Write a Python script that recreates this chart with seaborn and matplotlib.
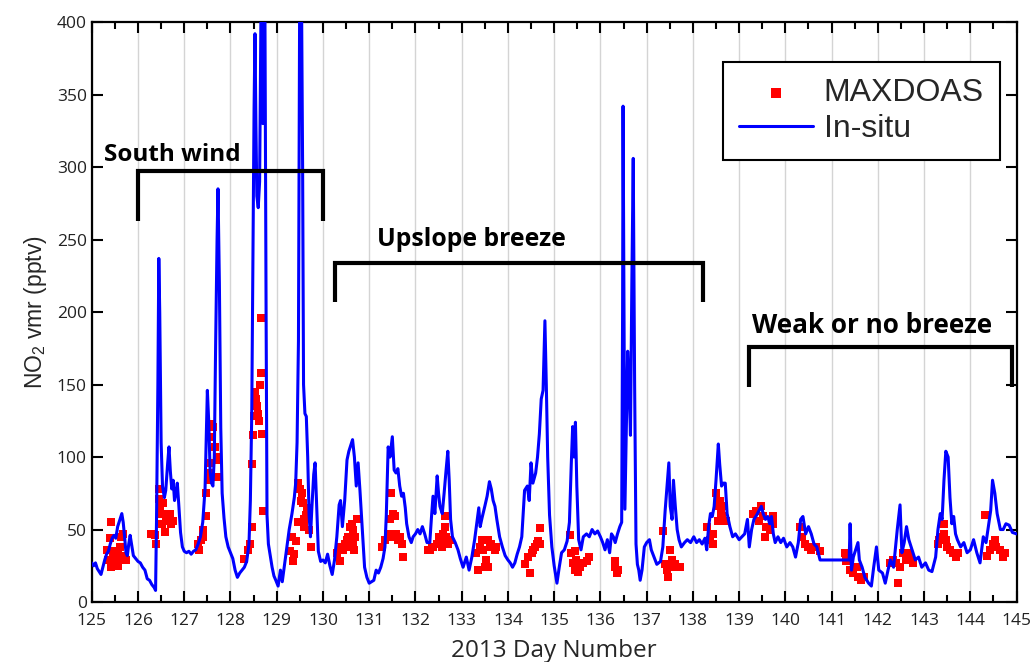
import matplotlib.pyplot as plt
import pandas as pd
import seaborn as sns

# in-situ NO2 (pptv)
insitu_day = [
    125.00, 125.04, 125.08, 125.12, 125.16, 125.20, 125.24, 125.28, 125.32, 125.36,
    125.40, 125.44, 125.48, 125.52, 125.56, 125.60, 125.65, 125.68, 125.71, 125.74,
    125.77, 125.80, 125.83, 125.86, 125.90, 125.95, 126.00, 126.05, 126.10, 126.15,
    126.20, 126.25, 126.30, 126.35, 126.38, 126.40, 126.43, 126.45, 126.47, 126.50,
    126.53, 126.57, 126.60, 126.64, 126.67, 126.70, 126.73, 126.76, 126.79, 126.82,
    126.85, 126.88, 126.92, 126.96, 127.00, 127.05, 127.10, 127.15, 127.20, 127.25,
    127.30, 127.35, 127.40, 127.45, 127.48, 127.50, 127.53, 127.56, 127.59, 127.62,
    127.65, 127.68, 127.71, 127.73, 127.76, 127.79, 127.82, 127.86, 127.90, 127.95,
    128.00, 128.05, 128.10, 128.15, 128.20, 128.25, 128.30, 128.35, 128.40, 128.43,
    128.46, 128.49, 128.51, 128.53, 128.55, 128.57, 128.60, 128.63, 128.67, 128.70,
    128.74, 128.77, 128.79, 128.82, 128.86, 128.90, 128.94, 128.98, 129.03, 129.08,
    129.12, 129.17, 129.22, 129.27, 129.33, 129.38, 129.41, 129.44, 129.47, 129.50,
    129.53, 129.56, 129.58, 129.61, 129.64, 129.67, 129.70, 129.73, 129.76, 129.80,
    129.83, 129.86, 129.90, 129.95, 130.00, 130.05, 130.10, 130.15, 130.20, 130.25,
    130.30, 130.35, 130.38, 130.42, 130.47, 130.52, 130.56, 130.60, 130.64, 130.68,
    130.72, 130.76, 130.80, 130.85, 130.90, 130.95, 131.00, 131.05, 131.10, 131.15,
    131.20, 131.25, 131.30, 131.34, 131.37, 131.41, 131.45, 131.50, 131.54, 131.58,
    131.62, 131.66, 131.70, 131.74, 131.78, 131.81, 131.86, 131.91, 131.95, 132.00,
    132.05, 132.10, 132.15, 132.20, 132.25, 132.31, 132.35, 132.38, 132.42, 132.47,
    132.50, 132.53, 132.58, 132.62, 132.66, 132.70, 132.73, 132.76, 132.80, 132.86,
    132.92, 132.97, 133.03, 133.10, 133.16, 133.22, 133.28, 133.33, 133.37, 133.40,
    133.44, 133.50, 133.55, 133.60, 133.64, 133.68, 133.72, 133.76, 133.82, 133.88,
    133.94, 134.00, 134.05, 134.10, 134.15, 134.20, 134.25, 134.30, 134.36, 134.42,
    134.46, 134.50, 134.54, 134.60, 134.64, 134.68, 134.72, 134.76, 134.80, 134.83,
    134.86, 134.90, 134.95, 135.00, 135.06, 135.11, 135.16, 135.22, 135.28, 135.33,
    135.37, 135.40, 135.43, 135.46, 135.49, 135.53, 135.58, 135.63, 135.70, 135.76,
    135.82, 135.88, 135.94, 136.00, 136.05, 136.10, 136.15, 136.20, 136.24, 136.28,
    136.32, 136.37, 136.42, 136.46, 136.48, 136.49, 136.51, 136.53, 136.56, 136.59,
    136.62, 136.65, 136.68, 136.71, 136.74, 136.77, 136.80, 136.83, 136.86, 136.90,
    136.95, 137.00, 137.06, 137.10, 137.16, 137.22, 137.30, 137.35, 137.40, 137.44,
    137.48, 137.51, 137.55, 137.58, 137.62, 137.66, 137.70, 137.75, 137.82, 137.88,
    137.95, 138.02, 138.08, 138.14, 138.20, 138.26, 138.30, 138.34, 138.38, 138.42,
    138.46, 138.50, 138.55, 138.58, 138.62, 138.66, 138.70, 138.74, 138.80, 138.86,
    138.92, 139.00, 139.06, 139.12, 139.18, 139.22, 139.27, 139.32, 139.38, 139.43,
    139.48, 139.52, 139.57, 139.62, 139.66, 139.70, 139.74, 139.78, 139.84, 139.90,
    139.96, 140.03, 140.10, 140.16, 140.22, 140.28, 140.33, 140.38, 140.44, 140.50,
    140.56, 140.62, 140.68, 140.75, 141.38, 141.40, 141.43, 141.47, 141.52, 141.57,
    141.60, 141.66, 141.72, 141.80, 141.86, 141.91, 141.97, 142.02, 142.10, 142.16,
    142.22, 142.27, 142.34, 142.42, 142.48, 142.52, 142.57, 142.62, 142.67, 142.74,
    142.81, 142.88, 142.95, 143.03, 143.10, 143.17, 143.25, 143.30, 143.35, 143.39,
    143.43, 143.47, 143.52, 143.56, 143.60, 143.64, 143.68, 143.72, 143.79, 143.86,
    143.93, 144.00, 144.07, 144.14, 144.21, 144.28, 144.34, 144.40, 144.44, 144.48,
    144.53, 144.58, 144.65, 144.71, 144.77, 144.84, 144.91, 145.00,
]
insitu_no2 = [
    27, 25, 27, 23, 21, 19, 24, 29, 33, 35,
    40, 44, 46, 44, 52, 56, 61, 55, 45, 34,
    32, 40, 46, 40, 32, 30, 28, 27, 24, 22,
    16, 15, 12, 10, 8, 55, 150, 237, 200, 110,
    80, 72, 77, 95, 107, 90, 78, 84, 70, 75,
    82, 68, 48, 38, 35, 34, 35, 33, 35, 36,
    40, 45, 55, 78, 120, 146, 124, 90, 82, 80,
    100, 180, 250, 285, 220, 120, 75, 58, 45, 38,
    34, 30, 22, 17, 20, 22, 24, 28, 40, 70,
    130, 260, 340, 392, 330, 280, 272, 290, 450, 330,
    450, 200, 60, 40, 32, 24, 18, 15, 11, 22,
    14, 26, 38, 50, 61, 72, 82, 110, 180, 450,
    450, 300, 150, 130, 128, 100, 60, 45, 65, 88,
    96, 70, 35, 28, 29, 27, 33, 25, 19, 29,
    45, 67, 70, 52, 70, 98, 104, 108, 112, 100,
    80, 96, 77, 50, 24, 17, 13, 14, 15, 22,
    20, 24, 30, 38, 60, 107, 100, 114, 91, 89,
    92, 80, 73, 75, 65, 54, 45, 41, 45, 47,
    50, 47, 52, 47, 41, 41, 60, 73, 61, 87,
    75, 66, 61, 75, 90, 104, 84, 57, 45, 41,
    36, 30, 24, 31, 22, 31, 43, 55, 65, 52,
    58, 66, 73, 83, 78, 70, 66, 57, 45, 38,
    32, 29, 27, 24, 27, 33, 38, 45, 77, 80,
    70, 96, 82, 89, 100, 116, 140, 146, 194, 150,
    100, 60, 38, 25, 13, 24, 34, 36, 42, 55,
    95, 121, 100, 124, 80, 43, 36, 45, 47, 45,
    50, 47, 49, 45, 41, 36, 43, 34, 47, 45,
    41, 47, 52, 55, 200, 342, 200, 64, 120, 173,
    150, 115, 220, 306, 150, 40, 26, 22, 15, 22,
    38, 41, 43, 36, 31, 26, 28, 38, 63, 80,
    96, 66, 57, 84, 66, 50, 43, 38, 41, 43,
    41, 45, 41, 43, 40, 44, 36, 52, 61, 59,
    66, 84, 109, 95, 80, 82, 82, 61, 52, 45,
    47, 43, 45, 47, 57, 38, 50, 57, 60, 63,
    66, 61, 57, 59, 54, 59, 47, 41, 45, 41,
    44, 38, 41, 38, 31, 41, 57, 59, 47, 52,
    47, 40, 38, 29, 29, 54, 22, 31, 36, 41,
    29, 24, 17, 13, 11, 24, 38, 22, 20, 13,
    22, 29, 24, 50, 67, 34, 41, 52, 43, 36,
    29, 31, 24, 27, 22, 21, 31, 50, 61, 57,
    84, 104, 100, 72, 54, 59, 47, 43, 38, 41,
    34, 36, 43, 34, 27, 45, 41, 54, 63, 84,
    75, 61, 50, 50, 54, 53, 48, 47,
]

# MAXDOAS NO2 (pptv)
maxdoas_day = [
    125.32, 125.35, 125.39, 125.41, 125.42, 125.46, 125.50, 125.50, 125.53, 125.57,
    125.57, 125.60, 125.64, 125.64, 125.68, 125.68, 125.71, 125.75,
    126.29, 126.36, 126.40, 126.46, 126.46, 126.47, 126.51, 126.51, 126.54, 126.58,
    126.59, 126.61, 126.65, 126.69, 126.72, 126.76,
    127.30, 127.33, 127.37, 127.40, 127.41, 127.48, 127.48, 127.51, 127.55, 127.55,
    127.59, 127.59, 127.62, 127.66, 127.70, 127.70, 127.73,
    128.30, 128.38, 128.42, 128.46, 128.47, 128.48, 128.50, 128.52, 128.54, 128.56,
    128.58, 128.60, 128.62, 128.64, 128.66, 128.67, 128.69, 128.70,
    129.28, 129.32, 129.35, 129.38, 129.42, 129.45, 129.47, 129.50, 129.52, 129.54,
    129.56, 129.58, 129.60, 129.63, 129.66, 129.70, 129.75,
    130.30, 130.37, 130.40, 130.44, 130.48, 130.51, 130.55, 130.58, 130.58, 130.62,
    130.65, 130.65, 130.67, 130.69, 130.73,
    131.27, 131.34, 131.41, 131.45, 131.48, 131.52, 131.52, 131.55, 131.59, 131.62,
    131.66, 131.70, 131.73,
    132.28, 132.31, 132.35, 132.39, 132.46, 132.50, 132.53, 132.57, 132.60, 132.64,
    132.64, 132.67, 132.71, 132.75,
    133.32, 133.36, 133.39, 133.43, 133.46, 133.50, 133.53, 133.57, 133.57, 133.61,
    133.64, 133.71, 133.75,
    134.37, 134.44, 134.48, 134.51, 134.55, 134.58, 134.62, 134.66, 134.69, 134.69,
    135.34, 135.37, 135.41, 135.44, 135.44, 135.48, 135.51, 135.55, 135.62, 135.70,
    135.76,
    136.31, 136.31, 136.35, 136.38,
    137.36, 137.40, 137.43, 137.47, 137.47, 137.50, 137.54, 137.58, 137.61, 137.65,
    137.72,
    138.30, 138.37, 138.44, 138.44, 138.51, 138.54, 138.54, 138.58, 138.61, 138.64,
    138.68, 138.71,
    139.30, 139.37, 139.44, 139.48, 139.52, 139.55, 139.59, 139.66, 139.67, 139.73,
    139.74,
    140.31, 140.35, 140.42, 140.49, 140.56, 140.67, 140.75,
    141.29, 141.32, 141.40, 141.47, 141.54, 141.57, 141.64, 141.71,
    142.26, 142.33, 142.40, 142.44, 142.47, 142.54, 142.61, 142.68, 142.71, 142.76,
    143.30, 143.33, 143.39, 143.40, 143.42, 143.44, 143.47, 143.50, 143.55, 143.62,
    143.70, 143.73,
    144.31, 144.35, 144.42, 144.49, 144.53, 144.56, 144.64, 144.71, 144.75,
]
maxdoas_no2 = [
    36, 29, 44, 55, 24, 31, 35, 25, 29, 34,
    25, 38, 45, 29, 47, 32, 30, 29,
    47, 46, 40, 78, 71, 66, 61, 54, 68, 61,
    48, 59, 56, 61, 54, 56,
    40, 36, 43, 50, 45, 59, 75, 84, 89, 96,
    123, 114, 121, 107, 100, 86, 98,
    30, 36, 40, 52, 95, 115, 128, 137, 145, 140,
    135, 130, 125, 150, 158, 196, 116, 63,
    35, 45, 28, 33, 42, 55, 82, 78, 70, 75,
    68, 57, 52, 60, 65, 50, 38,
    34, 28, 38, 36, 40, 43, 45, 52, 38, 54,
    50, 41, 36, 45, 57,
    38, 43, 47, 57, 75, 61, 45, 59, 47, 43,
    45, 40, 31,
    36, 36, 38, 38, 40, 45, 43, 38, 47, 59,
    52, 45, 40, 43,
    34, 22, 38, 43, 36, 24, 29, 43, 24, 38,
    40, 36, 38,
    26, 31, 20, 34, 36, 38, 40, 42, 51, 40,
    46, 34, 27, 22, 35, 29, 21, 24, 27, 28,
    31,
    24, 28, 20, 22,
    49, 26, 22, 17, 26, 36, 29, 24, 26, 24,
    24,
    52, 43, 47, 40, 75, 66, 56, 70, 61, 59,
    66, 56,
    61, 63, 56, 66, 59, 45, 52, 50, 50, 54,
    59,
    52, 45, 40, 38, 36, 38, 35,
    34, 28, 22, 20, 24, 17, 15, 17,
    27, 29, 27, 13, 24, 34, 29, 34, 29, 27,
    40, 43, 45, 54, 54, 47, 43, 38, 36, 34,
    31, 34,
    60, 32, 36, 40, 43, 38, 36, 31, 34,
]

day_ticks = list(range(125, 146))
vmr_ticks = list(range(0, 401, 50))

# (label, bracket start, bracket end, bracket top, leg bottom, text x, text y)
periods = [
    ("South wind", 126.0, 130.0, 297, 263, 125.27, 308),
    ("Upslope breeze", 130.26, 138.22, 234, 207, 131.17, 250),
    ("Weak or no breeze", 139.21, 144.9, 176, 148, 139.27, 191),
]
period_fontsize = {"South wind": 17.5, "Upslope breeze": 17.8, "Weak or no breeze": 18.8}


def main():
    sns.set_theme(style="ticks")
    plt.rcParams["font.family"] = ["Open Sans", "DejaVu Sans"]
    plt.rcParams["mathtext.fontset"] = "custom"
    plt.rcParams["mathtext.rm"] = "Liberation Sans"

    insitu = pd.DataFrame({"day": insitu_day, "no2": insitu_no2})
    maxdoas = pd.DataFrame({"day": maxdoas_day, "no2": maxdoas_no2})

    fig = plt.figure(figsize=(10.31, 6.62), dpi=100)
    ax = fig.add_axes([0.089, 0.0906, 0.897, 0.876])

    sns.scatterplot(data=maxdoas, x="day", y="no2", marker="s", color="#ff0000",
                    s=36, linewidth=0, label="MAXDOAS", ax=ax, zorder=2)
    sns.lineplot(data=insitu, x="day", y="no2", color="#0000ff", linewidth=2.2,
                 estimator=None, sort=False, label="In-situ", ax=ax, zorder=3)

    ax.set_xlim(125, 145)
    ax.set_ylim(0, 400)
    ax.set_xticks(day_ticks)
    ax.set_xticks([d + 0.5 for d in day_ticks[:-1]], minor=True)
    ax.set_yticks(vmr_ticks)
    ax.tick_params(axis="both", which="both", direction="in", top=True, right=True,
                   width=1.5, color="black", labelsize=12.5, labelcolor="#222222")
    ax.tick_params(axis="both", which="major", length=8)
    ax.tick_params(axis="x", which="minor", length=5)
    ax.tick_params(axis="x", which="major", pad=8)
    ax.grid(axis="x", which="major", color="#d4d4d4", linewidth=1, zorder=0)
    ax.set_axisbelow(True)
    for spine in ax.spines.values():
        spine.set_linewidth(1.6)
        spine.set_color("black")

    ax.set_xlabel("2013 Day Number", fontsize=17.5, labelpad=7)
    ax.set_ylabel("NO$_{2}$ vmr (pptv)", fontsize=16.5, labelpad=6,
                  family="Liberation Sans")

    for label, x0, x1, top, bottom, tx, ty in periods:
        ax.plot([x0, x0, x1, x1], [bottom, top, top, bottom], color="black",
                linewidth=3, solid_capstyle="butt", solid_joinstyle="miter", zorder=4)
        ax.text(tx, ty, label, fontsize=period_fontsize[label], fontweight="bold",
                ha="left", va="center", color="black", zorder=5)

    handles, labels = ax.get_legend_handles_labels()
    leg = ax.legend(handles, labels, loc="upper right", bbox_to_anchor=(0.982, 0.931),
                    borderaxespad=0, fancybox=False, framealpha=1, edgecolor="black",
                    prop={"family": "Liberation Sans", "size": 23}, handlelength=2.3,
                    handletextpad=0.35, labelspacing=0.2, borderpad=0.5,
                    markerscale=1.3)
    leg.get_frame().set_linewidth(1.5)

    fig.savefig("out.png", dpi=100)


if __name__ == "__main__":
    main()
